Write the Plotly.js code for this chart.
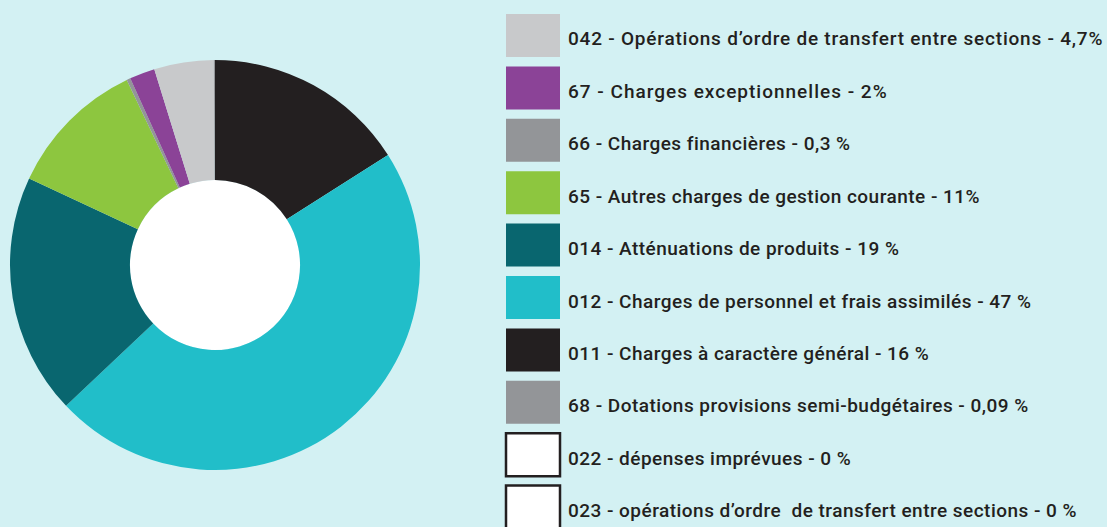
<!DOCTYPE html>
<html>
<head>
<meta charset="utf-8">
<script src="https://cdn.plot.ly/plotly-3.0.1.min.js"></script>
<style>html,body{margin:0;padding:0;background:#d3f1f3;}#chart{width:1107px;height:527px;}
.annotation-text{letter-spacing:0.47px;}</style>
</head>
<body>
<div id="chart"></div>
<script>
// Pie slices, clockwise from 12 o'clock
const pieCodes  = ["011", "012", "014", "65", "66", "67", "042", "68"];
const pieValues = [16, 47, 19, 11, 0.3, 2, 4.7, 0.09];
const pieColors = ["#231f20", "#21bec9", "#09666f", "#8dc63f", "#939598", "#8b4397", "#c8c9cb", "#939598"];

// Legend entries, top to bottom
const legendLabels = [
  "042 - Opérations d’ordre de transfert entre sections - 4,7%",
  "67 - Charges exceptionnelles - 2%",
  "66 - Charges financières - 0,3 %",
  "65 - Autres charges de gestion courante - 11%",
  "014 - Atténuations de produits - 19 %",
  "012 - Charges de personnel et frais assimilés - 47 %",
  "011 - Charges à caractère général - 16 %",
  "68 - Dotations provisions semi-budgétaires - 0,09 %",
  "022 - dépenses imprévues - 0 %",
  "023 - opérations d’ordre  de transfert entre sections - 0 %"
];
const legendColors = ["#c8c9cb", "#8b4397", "#939598", "#8dc63f", "#09666f", "#21bec9", "#231f20", "#939598", "#ffffff", "#ffffff"];
const legendOutlined = [false, false, false, false, false, false, false, false, true, true];

// text styling: letter spacing per legend line (px)
const legendSpacing = [0.78, 1.0, 0.47, 0.47, 0.47, 0.47, 0.47, 0.47, 0.47, 0.47];

const W = 1107, H = 527;
const px = x => x / W;
const py = y => 1 - y / H;

const shapes = [
  // white centre of the donut
  {type: "circle", xref: "paper", yref: "paper", layer: "below",
   x0: px(130), x1: px(300), y0: py(350), y1: py(180),
   fillcolor: "#ffffff", line: {width: 0}}
];
const annotations = [];
legendLabels.forEach((lab, i) => {
  const top = 14 + i * 52.4;
  const bottom = top + 43;
  shapes.push({
    type: "rect", xref: "paper", yref: "paper",
    x0: px(506), x1: px(560), y0: py(bottom), y1: py(top),
    fillcolor: legendColors[i],
    line: legendOutlined[i] ? {color: "#231f20", width: 2.5} : {width: 0}
  });
  annotations.push({
    xref: "paper", yref: "paper", x: px(566), y: py(top + 25),
    xanchor: "left", yanchor: "middle", showarrow: false,
    text: `<span style="letter-spacing:${legendSpacing[i]}px">${lab}</span>`,
    font: {family: "Roboto", size: 19, color: "#231f20", weight: 500}
  });
});

const data = [{
  type: "pie",
  labels: pieCodes,
  values: pieValues,
  sort: false,
  direction: "clockwise",
  rotation: 0,
  hole: 0.415,
  marker: {colors: pieColors, line: {width: 0}},
  textinfo: "none",
  hoverinfo: "label+value",
  showlegend: false,
  domain: {x: [px(10), px(420)], y: [py(470), py(60)]}
}];

const layout = {
  width: W, height: H,
  margin: {l: 0, r: 0, t: 0, b: 0},
  paper_bgcolor: "#d3f1f3",
  plot_bgcolor: "#d3f1f3",
  showlegend: false,
  shapes: shapes,
  annotations: annotations
};

Plotly.newPlot("chart", data, layout, {displayModeBar: false, staticPlot: true});
</script>
</body>
</html>
